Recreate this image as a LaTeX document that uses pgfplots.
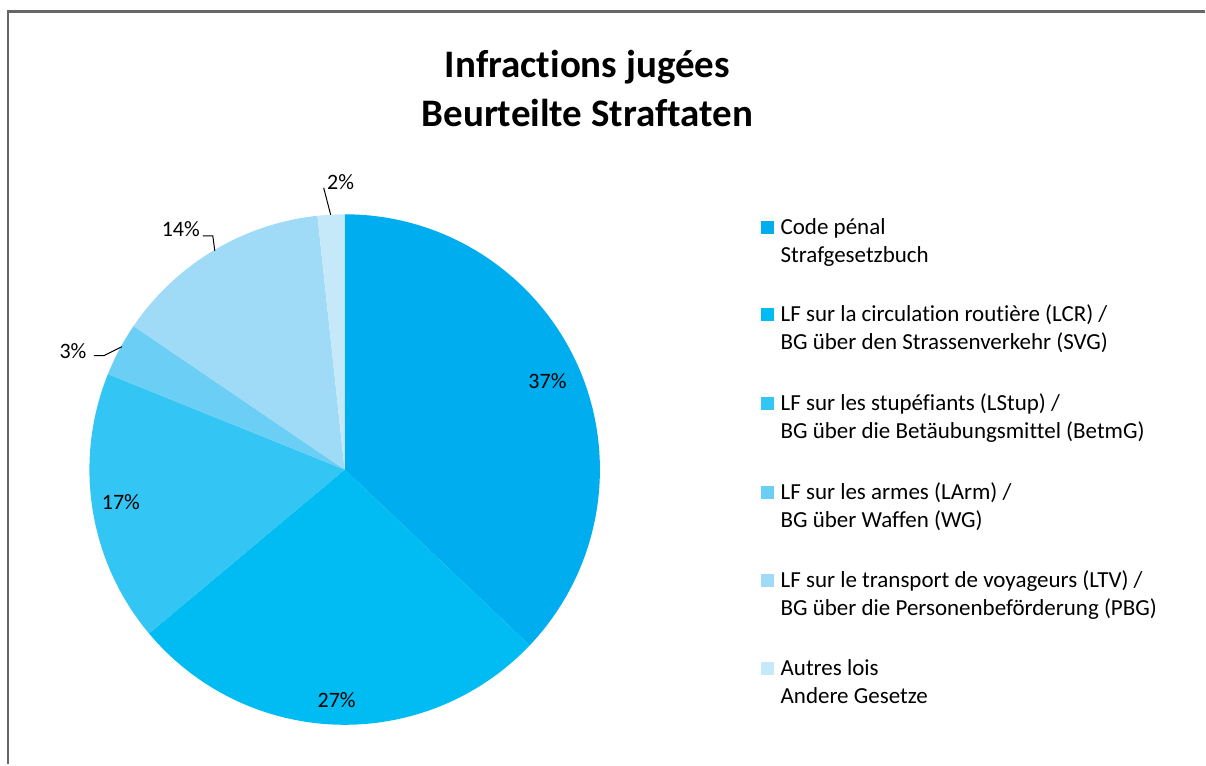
\documentclass[border=0pt]{standalone}
\usepackage{fontspec}
\setmainfont{Carlito}[Ligatures=NoCommon]
\usepackage{pgfplots}
\usepackage{pgfplotstable}
\pgfplotsset{compat=1.18}

\definecolor{cA}{HTML}{00AEEF}
\definecolor{cB}{HTML}{00BCF2}
\definecolor{cC}{HTML}{33C5F3}
\definecolor{cD}{HTML}{6ACEF5}
\definecolor{cE}{HTML}{9FDBF7}
\definecolor{cF}{HTML}{C5E9F9}

% share in percent, printed label, label position (px)
\pgfplotstableread{
pct  lab col lx  ly
37.1 37  cA  548 381
26.8 27  cB  337 701
17.2 17  cC  121 503
3.4  3   cD  73  351
13.8 14  cE  181 229
1.7  2   cF  341 182
}\pietable

\begin{document}
\begin{tikzpicture}
\begin{axis}[
  x=0.5pt, y=0.5pt, y dir=reverse,
  xmin=0, xmax=1206, ymin=0, ymax=765,
  scale only axis, hide axis, clip=false,
]
  \path (axis cs:0,0) rectangle (axis cs:1206,765);
  % frame
  \draw[line width=1.2pt, black!60] (axis cs:8,765) -- (axis cs:8,11.5) -- (axis cs:1206,11.5);

  % title
  \node[font=\fontsize{19.5}{24}\selectfont\bfseries, anchor=base] at (axis cs:588,78) {Infractions jugées};
  \node[font=\fontsize{19.5}{24}\selectfont\bfseries, anchor=base] at (axis cs:588,127) {Beurteilte Straftaten};

  % pie slices, clockwise from the top
  \pgfplotsextra{
    \def\angstart{90}
    \foreach \i in {0,...,5} {
      \pgfplotstablegetelem{\i}{pct}\of\pietable \let\v\pgfplotsretval
      \pgfplotstablegetelem{\i}{col}\of\pietable \let\c\pgfplotsretval
      \pgfmathsetmacro{\angend}{\angstart-3.6*\v}
      \fill[\c] (axis cs:345,470) -- ++(\angstart:127.75pt)
        arc[start angle=\angstart, end angle=\angend, radius=127.75pt] -- cycle;
      \xdef\angstart{\angend}
    }
    \foreach \i in {0,...,5} {
      \pgfplotstablegetelem{\i}{lab}\of\pietable \let\l\pgfplotsretval
      \pgfplotstablegetelem{\i}{lx}\of\pietable \let\x\pgfplotsretval
      \pgfplotstablegetelem{\i}{ly}\of\pietable \let\y\pgfplotsretval
      \node[font=\fontsize{11}{13}\selectfont] at (axis cs:\x,\y) {\l\%};
    }
  }

  % leader lines
  \draw[black, line width=0.5pt] (axis cs:94,356) -- (axis cs:104,356) -- (axis cs:122,347);
  \draw[black, line width=0.5pt] (axis cs:203,236) -- (axis cs:213,236) -- (axis cs:215,251);
  \draw[black, line width=0.5pt] (axis cs:324,188) -- (axis cs:331,215);

  % legend
  \pgfplotsextra{
    \foreach \c/\y/\la/\lb in {
      cA/228/{Code pénal}/{Strafgesetzbuch},
      cB/315/{LF sur la circulation routière (LCR) /}/{BG über den Strassenverkehr (SVG)},
      cC/404/{LF sur les stupéfiants (LStup) /}/{BG über die Betäubungsmittel (BetmG)},
      cD/493/{LF sur les armes (LArm) /}/{BG über Waffen (WG)},
      cE/581/{LF sur le transport de voyageurs (LTV) /}/{BG über die Personenbeförderung (PBG)},
      cF/669/{Autres lois}/{Andere Gesetze}} {
      \fill[\c] (axis cs:762,\y-6.5) rectangle (axis cs:775,\y+6.5);
      \node[font=\fontsize{11.5}{14}\selectfont, anchor=base west, inner sep=0pt]
        at (axis cs:781,\y+7) {\la};
      \node[font=\fontsize{11.5}{14}\selectfont, anchor=base west, inner sep=0pt]
        at (axis cs:781,\y+35) {\lb};
    }
  }
\end{axis}
\end{tikzpicture}
\end{document}
